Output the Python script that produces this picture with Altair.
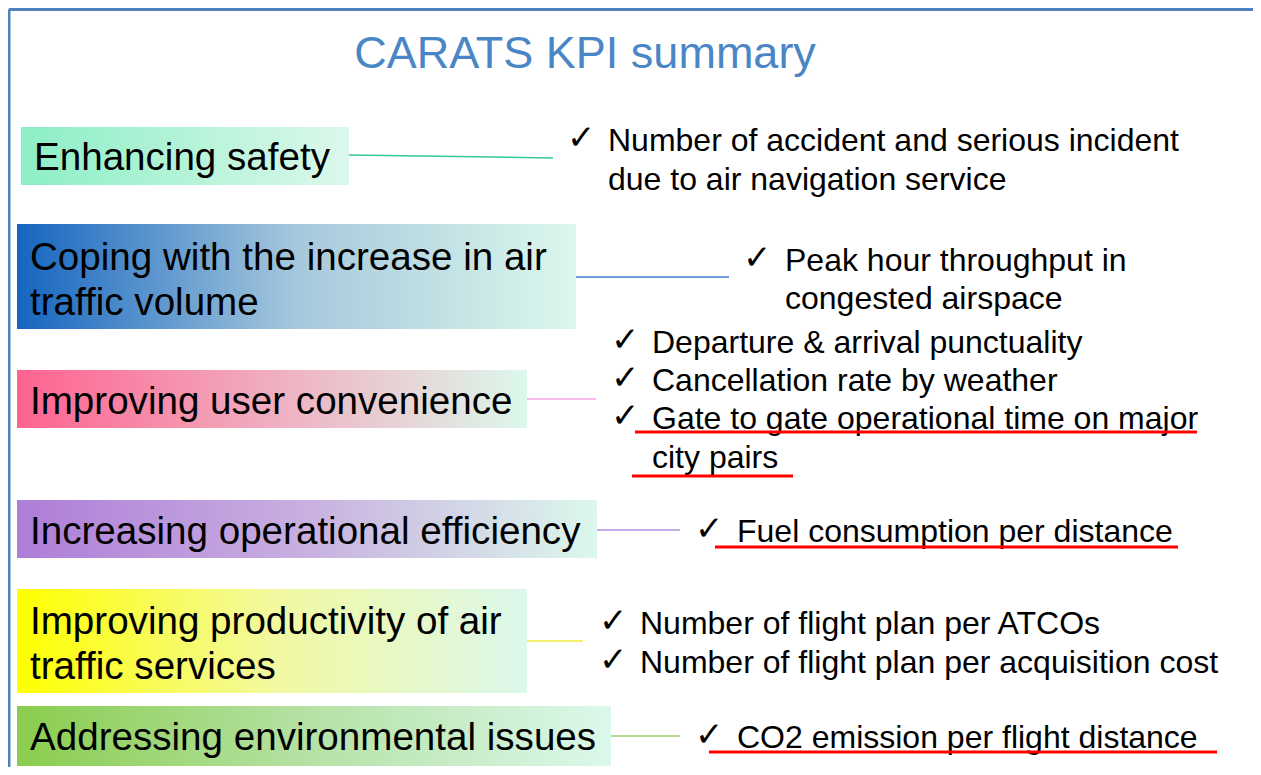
import altair as alt
import pandas as pd

# ---------------- content ----------------
title_text = "CARATS KPI summary"

objectives = [
    ["Enhancing safety"],
    ["Coping with the increase in air", "traffic volume"],
    ["Improving user convenience"],
    ["Increasing operational efficiency"],
    ["Improving productivity of air", "traffic services"],
    ["Addressing environmental issues"],
]

kpis = [
    ["Number of accident and serious incident", "due to air navigation service"],
    ["Peak hour throughput in", "congested airspace"],
    ["Departure & arrival punctuality", "Cancellation rate by weather",
     "Gate to gate operational time on major", "city pairs"],
    ["Fuel consumption per distance"],
    ["Number of flight plan per ATCOs", "Number of flight plan per acquisition cost"],
    ["CO2 emission per flight distance"],
]

# which KPI lines start with a check mark
checked = [
    [True, False],
    [True, False],
    [True, True, True, False],
    [True],
    [True, True],
    [True],
]

box_start_colors = ["#8cefc6", "#1565c0", "#ff6390", "#ae7dd8", "#ffff00", "#8acd4e"]
box_mid_colors = ["#b4f3d8", "#a6c8dc", "#f0aec0", "#c8b0e0", "#f2f9a0", "#b6e2a6"]
box_end_color = "#dcf8ec"
connector_colors = ["#30c89e", "#3d7fcc", "#f4a6e6", "#b490e6", "#eeee40", "#9ed070"]

# ---------------- layout (reference pixel coordinates) ----------------
box_rects = [(21, 349, 127, 185), (17, 576, 224, 329), (17, 527, 370, 428),
             (17, 597, 500, 558), (17, 527, 589, 693), (17, 611, 706, 766)]
label_x = [34, 30, 30, 30, 30, 30]
label_baselines = [[170], [270, 315], [414], [544], [634, 679], [750]]
connectors = [(349, 155, 553, 158), (576, 277, 729, 277), (527, 399, 596, 399),
              (597, 530, 680, 530), (527, 641, 583, 641), (611, 736, 680, 736)]
check_x = [567, 743, 611, 695, 599, 695]
kpi_x = [608, 785, 652, 737, 640, 737]
kpi_baselines = [[151, 190], [271, 309], [353, 391, 429, 468], [542], [634, 673], [748]]
underlines = [(635, 1197, 432), (632, 793, 476), (715, 1178, 547), (709, 1217, 752)]
frame = [(9, 9.5, 1253, 9.5), (9, 9.5, 9, 767)]

W, H = 1245, 759
xs = alt.Scale(domain=[8, 8 + W], nice=False, zero=False)
ys = alt.Scale(domain=[8, 8 + H], nice=False, zero=False, reverse=True)


def X(f):
    return alt.X(f, type="quantitative", scale=xs, axis=None)


def Y(f):
    return alt.Y(f, type="quantitative", scale=ys, axis=None)


FONT = "Liberation Sans"
layers = []

# boxes with gradient fills
for i, (x0, x1, y0, y1) in enumerate(box_rects):
    grad = alt.Gradient(
        gradient="linear",
        stops=[alt.GradientStop(offset=0, color=box_start_colors[i]),
               alt.GradientStop(offset=0.5, color=box_mid_colors[i]),
               alt.GradientStop(offset=1, color=box_end_color)],
        x1=0, x2=1, y1=0, y2=0,
    )
    d = pd.DataFrame({"x": [x0], "x2": [x1], "y": [y0], "y2": [y1]})
    layers.append(alt.Chart(d).mark_rect(fill=grad, strokeWidth=0).encode(
        x=X("x"), x2="x2", y=Y("y"), y2="y2"))

# objective labels
rows = []
for i, lines in enumerate(objectives):
    for t, b in zip(lines, label_baselines[i]):
        rows.append({"x": label_x[i], "y": b, "t": t})
layers.append(alt.Chart(pd.DataFrame(rows)).mark_text(
    font=FONT, fontSize=38.6, align="left", baseline="alphabetic", color="#000000"
).encode(x=X("x"), y=Y("y"), text="t:N"))

# connectors
rows = [{"x": a, "y": b, "x2": c, "y2": d, "c": connector_colors[i]}
        for i, (a, b, c, d) in enumerate(connectors)]
layers.append(alt.Chart(pd.DataFrame(rows)).mark_rule(strokeWidth=1.5).encode(
    x=X("x"), y=Y("y"), x2="x2", y2="y2", color=alt.Color("c:N", scale=None)))

# check marks
rows = []
for i, lines in enumerate(kpis):
    for k, b in zip(checked[i], kpi_baselines[i]):
        if k:
            rows.append({"x": check_x[i], "y": b - 2, "t": "\u2713"})
layers.append(alt.Chart(pd.DataFrame(rows)).mark_text(
    font="DejaVu Sans", fontSize=34, align="left", baseline="alphabetic", color="#000000"
).encode(x=X("x"), y=Y("y"), text="t:N"))

# KPI texts
rows = []
for i, lines in enumerate(kpis):
    for t, b in zip(lines, kpi_baselines[i]):
        rows.append({"x": kpi_x[i], "y": b, "t": t})
layers.append(alt.Chart(pd.DataFrame(rows)).mark_text(
    font=FONT, fontSize=32, align="left", baseline="alphabetic", color="#000000"
).encode(x=X("x"), y=Y("y"), text="t:N"))

# red underlines
rows = [{"x": a, "x2": b, "y": c} for a, b, c in underlines]
layers.append(alt.Chart(pd.DataFrame(rows)).mark_rule(color="#ff0000", strokeWidth=3).encode(
    x=X("x"), x2="x2", y=Y("y")))

# frame
rows = [{"x": a, "y": b, "x2": c, "y2": d} for a, b, c, d in frame]
layers.append(alt.Chart(pd.DataFrame(rows)).mark_rule(color="#4f81bd", strokeWidth=3).encode(
    x=X("x"), y=Y("y"), x2="x2", y2="y2"))

# title
layers.append(alt.Chart(pd.DataFrame({"x": [585], "y": [68], "t": [title_text]})).mark_text(
    font=FONT, fontSize=45, align="center", baseline="alphabetic", color="#4a86c6"
).encode(x=X("x"), y=Y("y"), text="t:N"))

chart = alt.layer(*layers).properties(
    width=W, height=H, padding=0, autosize=alt.AutoSizeParams(type="none")
).configure_view(stroke=None).configure(background="#ffffff")

chart.save("out.html", embed_options={"renderer": "svg", "actions": False})
